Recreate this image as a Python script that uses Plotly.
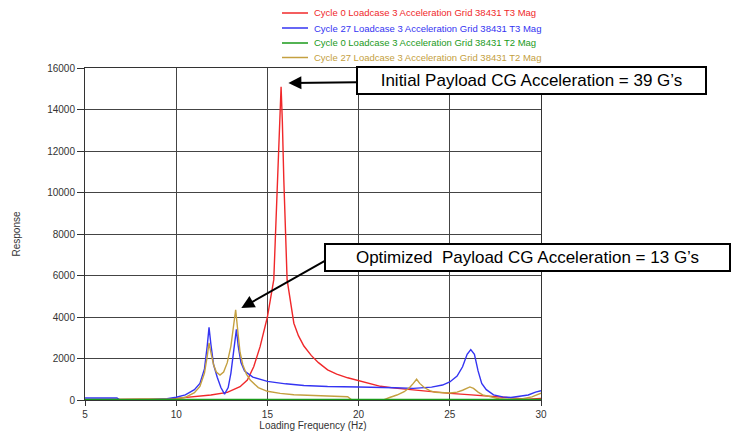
import plotly.graph_objects as go

# ---- data ----
red_x = [5, 8.7, 9.5, 10, 11, 11.9, 12.8, 13.5, 13.9, 14.25, 14.6, 15.0, 15.35, 15.57, 15.68, 15.75,
         15.82, 15.9, 16.08, 16.45, 16.7, 17.0, 17.4, 17.8, 18.3, 18.8, 19.4, 20, 20.5, 21.2, 22, 23,
         24, 25, 26, 26.7, 27.5, 28.2, 28.8, 29.3, 30]
red_y = [20, 20, 50, 80, 150, 240, 370, 640, 960, 1600, 2570, 4000, 5800, 10600, 13300, 15100,
         13400, 10600, 5800, 3700, 3100, 2600, 2150, 1800, 1450, 1250, 1070, 930, 800, 660, 570, 480,
         400, 320, 260, 210, 170, 130, 80, 40, 70]

blue_x = [5, 6.75, 6.9, 8.5, 9.5, 10, 10.5, 11, 11.3, 11.55, 11.7, 11.8, 11.9, 12.05, 12.25, 12.45,
          12.65, 12.85, 13.0, 13.15, 13.3, 13.4, 13.55, 13.75, 14.2, 15, 16, 17, 18.3, 20, 21.2, 22,
          23, 24, 24.6, 25, 25.4, 25.7, 25.95, 26.15, 26.35, 26.55, 26.75, 27.0, 27.4, 27.9, 28.35,
          28.8, 29.3, 29.7, 30]
blue_y = [100, 100, 10, 10, 60, 130, 250, 500, 800, 1500, 2600, 3500, 2700, 1700, 1100, 600,
          280, 600, 1300, 2500, 3400, 2600, 1800, 1400, 1100, 900, 780, 700, 650, 630, 620, 590,
          560, 620, 720, 870, 1150, 1600, 2200, 2430, 2200, 1400, 800, 500, 250, 150, 120,
          160, 240, 380, 450]

green_x = [5, 10, 15, 20, 25, 30]
green_y = [25, 25, 25, 25, 25, 25]

gold_x = [5, 9.5, 10, 10.5, 11, 11.3, 11.55, 11.7, 11.8, 11.9, 12.05, 12.2, 12.4, 12.6, 12.8, 13.0,
          13.15, 13.26, 13.38, 13.5, 13.65, 13.85, 14.07, 14.5, 15, 15.7, 16.45, 17.5, 18.3, 19.4,
          19.6, 21.4, 21.7, 22.1, 22.5, 22.8, 23.0, 23.18, 23.35, 23.6, 23.9, 24.2, 25, 25.4, 25.7,
          25.95, 26.1, 26.3, 26.55, 26.8, 27.2, 27.7, 28.2, 29, 29.5, 30]
gold_y = [0, 20, 50, 130, 350, 650, 1300, 2100, 2750, 2300, 1700, 1350, 1200, 1350, 1800, 2600,
          3500, 4350, 3300, 2300, 1700, 1250, 950, 600, 420, 320, 250, 210, 190, 160,
          20, 20, 120, 240, 400, 600, 800, 1000, 800, 600, 450, 370, 340, 380, 470,
          580, 630, 560, 380, 250, 150, 60, 30, 60, 150, 330]

series_names = [
    "Cycle 0 Loadcase 3 Acceleration Grid 38431 T3 Mag",
    "Cycle 27 Loadcase 3 Acceleration Grid 38431 T3 Mag",
    "Cycle 0 Loadcase 3 Acceleration Grid 38431 T2 Mag",
    "Cycle 27 Loadcase 3 Acceleration Grid 38431 T2 Mag",
]
series_colors = ["#f0282a", "#3434f2", "#1a9a1a", "#c4a040"]

x_ticks = [5, 10, 15, 20, 25, 30]
y_ticks = [0, 2000, 4000, 6000, 8000, 10000, 12000, 14000, 16000]
y_tick_labels = ["0", "2000", "4000", "6000", "8000", "10000", "12000", "14000", "16000"]

FONT = "Arial, Liberation Sans, sans-serif"

fig = go.Figure()
data = [(red_x, red_y), (blue_x, blue_y), (green_x, green_y), (gold_x, gold_y)]
for i in [0, 1, 3, 2]:
    xs, ys = data[i]
    fig.add_trace(go.Scatter(x=xs, y=ys, mode="lines", name=series_names[i],
                             line=dict(color=series_colors[i], width=1.4),
                             showlegend=False))

W, H = 737, 434
ml, mr, mt, mb = 85, 196, 68, 34
pw, ph = W - ml - mr, H - mt - mb


def px2paper(px, py):
    return (px - ml) / pw, (H - mb - py) / ph


# manual compact legend at the top
legend_rows = [13, 28, 43, 57.5]
shapes = []
annotations = []
for name, col, ry in zip(series_names, series_colors, legend_rows):
    x0, y0 = px2paper(282, ry)
    x1, _ = px2paper(308, ry)
    shapes.append(dict(type="line", xref="paper", yref="paper", x0=x0, x1=x1, y0=y0, y1=y0,
                       line=dict(color=col, width=1.5)))
    tx, ty = px2paper(312, ry)
    annotations.append(dict(xref="paper", yref="paper", x=tx, y=ty, xanchor="left", yanchor="middle",
                            text=name, showarrow=False, font=dict(family=FONT, size=9.5, color=col)))

# callout 1
annotations.append(dict(x=16.15, y=15280, xref="x", yref="y", axref="pixel", ayref="pixel",
                        ax=243.5, ay=-2.5, text="Initial Payload CG Acceleration = 39 G\u2019s",
                        showarrow=True, arrowhead=2, arrowsize=1.3, arrowwidth=2, arrowcolor="black",
                        font=dict(family=FONT, size=17, color="black"), bgcolor="white",
                        bordercolor="black", borderwidth=2, borderpad=1, width=345, height=23))
# callout 2 arrow
annotations.append(dict(x=13.57, y=4430, xref="x", yref="y", axref="pixel", ayref="pixel",
                        ax=85, ay=-48, text="", showarrow=True, arrowhead=2, arrowsize=1.3,
                        arrowwidth=2, arrowcolor="black"))
bx, by = px2paper(527.5, 257.5)
annotations.append(dict(x=bx, y=by, xref="paper", yref="paper", xanchor="center", yanchor="middle",
                        text="Optimized\u00a0\u00a0Payload CG Acceleration = 13 G\u2019s", showarrow=False,
                        font=dict(family=FONT, size=17, color="black"), bgcolor="white",
                        bordercolor="black", borderwidth=2, borderpad=1, width=401, height=23))

fig.update_layout(
    width=W, height=H,
    margin=dict(l=ml, r=mr, t=mt, b=mb, pad=0, autoexpand=False),
    paper_bgcolor="white", plot_bgcolor="white",
    font=dict(family=FONT, size=10, color="#333"),
    shapes=shapes, annotations=annotations,
    showlegend=False,
)
fig.update_xaxes(range=[5, 30], tickvals=x_ticks, ticks="outside", ticklen=5, tickcolor="#333",
                 showline=True, linecolor="#333", linewidth=1, mirror=True, automargin=False,
                 showgrid=True, gridcolor="#444", gridwidth=1, zeroline=False,
                 title=dict(text="Loading Frequency (Hz)", standoff=2, font=dict(size=10)),
                 tickfont=dict(size=10))
fig.update_yaxes(range=[0, 16000], tickvals=y_ticks, ticktext=y_tick_labels, ticks="outside",
                 ticklen=7, tickcolor="#333", automargin=False,
                 showline=True, linecolor="#333", linewidth=1, mirror=True,
                 showgrid=True, gridcolor="#444", gridwidth=1, zeroline=False,
                 title=dict(text="Response", standoff=24, font=dict(size=10)),
                 tickfont=dict(size=10))

fig.write_html("out.html", config={"displayModeBar": False},
               post_script="document.body.style.margin='0';document.body.style.overflow='hidden';")
